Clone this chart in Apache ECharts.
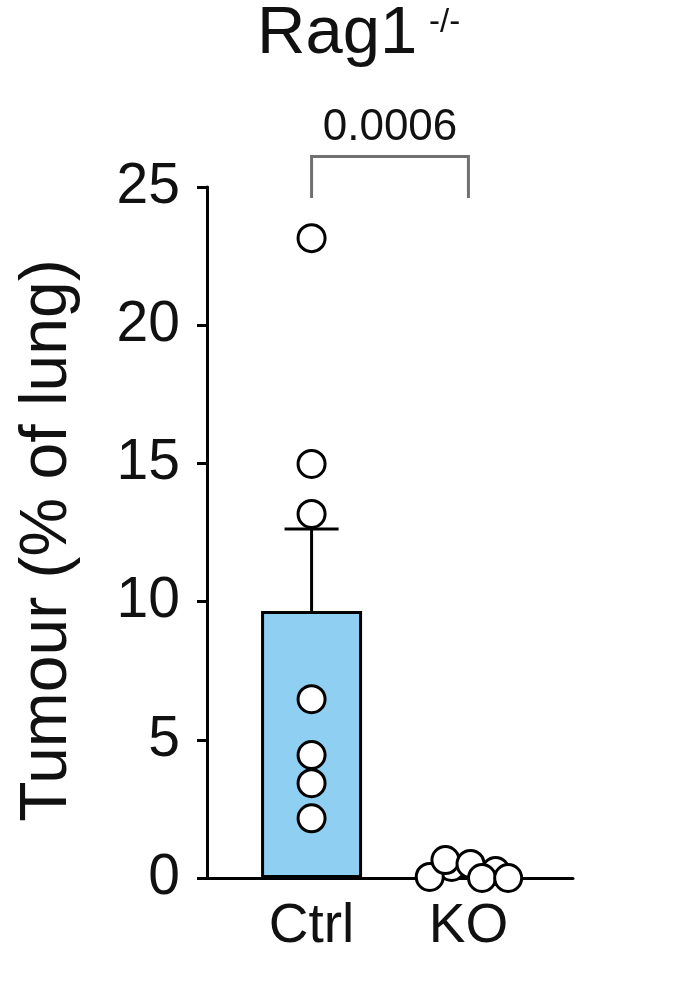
<!DOCTYPE html>
<html>
<head>
    <meta charset="utf-8">
    <title>Rag1-/- tumour</title>
    <script src="https://cdn.jsdelivr.net/npm/echarts@6/dist/echarts.min.js"></script>
    <style>
        html, body { margin: 0; padding: 0; background: #fff; }
        #chart { width: 687px; height: 1008px; }
    </style>
</head>
<body>
<div id="chart"></div>
<script type="text/javascript">
    // groups and where they sit on the x axis
    var categories = ['Ctrl', 'KO'];
    var categoryPos = [1, 2.5];

    // bar = mean, error = SEM
    var barMeans = [9.66, 0.29];
    var barSem = [2.97, 0];

    // individual mice
    var ctrlValues = [23.15, 14.98, 13.17, 6.47, 4.45, 3.43, 2.16];
    var koValues = [0.40, 0.04, 0.65, 0.51, 0.25, 0, 0];
    var koJitter = [2.34, 2.13, 2.28, 2.52, 2.76, 2.63, 2.88];

    var yTicks = [0, 5, 10, 15, 20, 25];
    var pValue = '0.0006';

    var FONT = "'Liberation Sans', Arial, sans-serif";

    var ctrlPoints = ctrlValues.map(function (v) { return [categoryPos[0], v]; });
    var koPoints = koValues.map(function (v, i) { return [koJitter[i], v]; });

    var myChart = echarts.init(document.getElementById('chart'), null, {renderer: 'canvas'});

    myChart.setOption({
        animation: false,
        backgroundColor: '#fff',
        grid: {left: 207, right: 114, top: 187, bottom: 130},
        graphic: [
            {
                type: 'text',
                left: 257, top: 1,
                style: {text: 'Rag1', font: '400 67px ' + FONT, fill: '#111'}
            },
            {
                type: 'text',
                left: 429, top: 6,
                style: {text: '-/-', font: '400 33px ' + FONT, fill: '#111'}
            }
        ],
        xAxis: {
            type: 'value',
            min: 0,
            max: 3.5,
            interval: 0.5,
            splitLine: {show: false},
            axisTick: {show: false},
            axisLine: {show: true, onZero: false, lineStyle: {color: '#000', width: 3}},
            axisLabel: {
                margin: 21,
                fontSize: 55,
                fontFamily: FONT,
                color: '#111',
                formatter: function (v) {
                    var i = categoryPos.indexOf(v);
                    return i >= 0 ? categories[i] : '';
                }
            }
        },
        yAxis: {
            type: 'value',
            min: yTicks[0],
            max: yTicks[yTicks.length - 1],
            interval: 5,
            name: 'Tumour (% of lung)',
            nameLocation: 'middle',
            nameRotate: 90,
            nameGap: 126,
            nameTextStyle: {fontSize: 66, fontFamily: FONT, color: '#111', padding: [0, 16, 0, 0]},
            splitLine: {show: false},
            axisLine: {show: true, lineStyle: {color: '#000', width: 3}},
            axisTick: {show: true, length: 10, lineStyle: {color: '#000', width: 3}},
            axisLabel: {margin: 27, fontSize: 57, fontFamily: FONT, color: '#111'}
        },
        series: [
            {
                name: 'mean',
                type: 'bar',
                barWidth: 101,
                z: 2,
                data: [[categoryPos[0], barMeans[0]]],
                itemStyle: {color: '#8fcff2', borderColor: '#000', borderWidth: 3}
            },
            {
                name: 'sem',
                type: 'custom',
                z: 3,
                data: categoryPos.map(function (x, i) { return [x, barMeans[i], barSem[i]]; }),
                renderItem: function (params, api) {
                    if (api.value(2) <= 0) return null;
                    var base = api.coord([api.value(0), api.value(1)]);
                    var top = api.coord([api.value(0), api.value(1) + api.value(2)]);
                    var st = {stroke: '#000', lineWidth: 3};
                    return {
                        type: 'group',
                        children: [
                            {type: 'line', shape: {x1: base[0], y1: base[1], x2: top[0], y2: top[1]}, style: st},
                            {type: 'line', shape: {x1: top[0] - 27, y1: top[1], x2: top[0] + 27, y2: top[1]}, style: st}
                        ]
                    };
                }
            },
            {
                name: 'bracket',
                type: 'custom',
                z: 3,
                clip: false,
                data: [[categoryPos[0], categoryPos[1], 26.1, 24.6]],
                renderItem: function (params, api) {
                    var a = api.coord([api.value(0), api.value(2)]);
                    var b = api.coord([api.value(1), api.value(2)]);
                    var a2 = api.coord([api.value(0), api.value(3)]);
                    var st = {stroke: '#707070', lineWidth: 3, fill: null};
                    return {
                        type: 'group',
                        children: [
                            {
                                type: 'polyline',
                                shape: {points: [[a[0], a2[1]], a, b, [b[0], a2[1]]]},
                                style: st
                            },
                            {
                                type: 'text',
                                x: (a[0] + b[0]) / 2,
                                y: a[1] - 29,
                                style: {
                                    text: pValue, font: '400 44px ' + FONT, fill: '#111',
                                    align: 'center', verticalAlign: 'middle'
                                }
                            }
                        ]
                    };
                }
            },
            {
                name: 'Ctrl',
                type: 'scatter',
                z: 4,
                clip: false,
                symbol: 'circle',
                symbolSize: 27,
                data: ctrlPoints,
                itemStyle: {color: '#fff', borderColor: '#000', borderWidth: 3, opacity: 1}
            },
            {
                name: 'KO',
                type: 'scatter',
                z: 4,
                clip: false,
                symbol: 'circle',
                symbolSize: 27,
                data: koPoints,
                itemStyle: {color: '#fff', borderColor: '#000', borderWidth: 3, opacity: 1}
            }
        ]
    });
</script>
</body>
</html>
